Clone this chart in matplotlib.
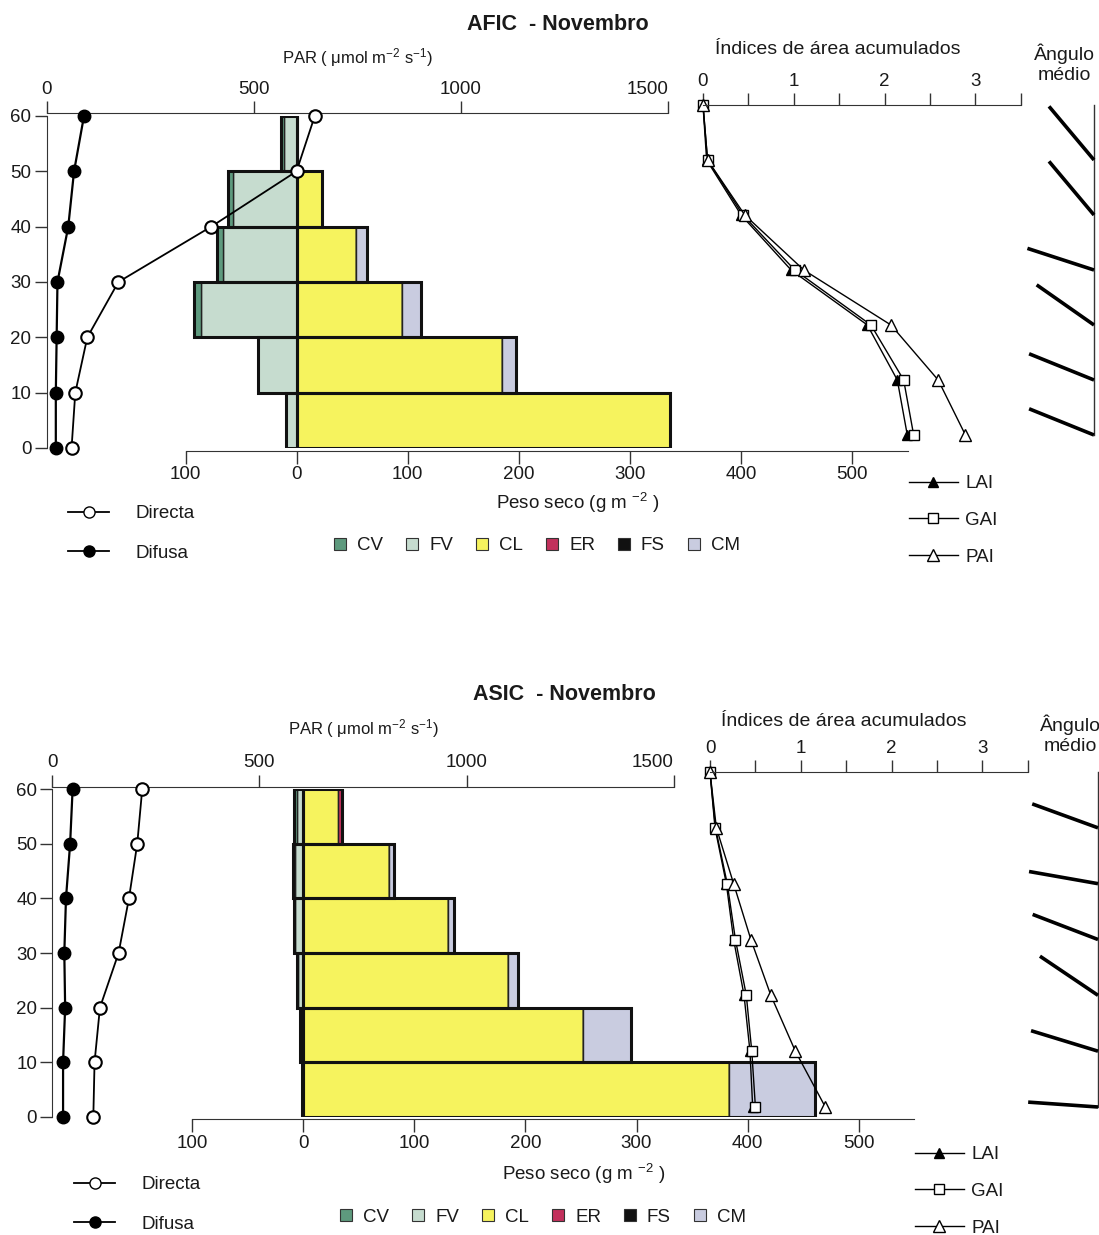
import numpy as np
import matplotlib
matplotlib.use('Agg')
import matplotlib.pyplot as plt
from matplotlib.patches import Patch
from matplotlib.lines import Line2D

plt.rcParams['font.family'] = ['Liberation Sans', 'DejaVu Sans']
plt.rcParams['mathtext.fontset'] = 'custom'
plt.rcParams['mathtext.rm'] = 'Liberation Sans'
plt.rcParams['mathtext.default'] = 'regular'

W, H = 1099, 1235   # output size in px (dpi 100)

HEIGHTS = [0, 10, 20, 30, 40, 50, 60]       # cm, PAR and area index levels
LAYERS = [0, 10, 20, 30, 40, 50]            # base of each 10 cm layer
HEIGHT_TICKS = [0, 10, 20, 30, 40, 50, 60]
PAR_TICKS = [0, 500, 1000, 1500]
WEIGHT_TICKS = [-100, 0, 100, 200, 300, 400, 500]
INDEX_TICKS = [0, 1, 2, 3]
INDEX_MINOR = [0.5, 1.5, 2.5, 3.5]
PARTS = ['CV', 'FV', 'CL', 'ER', 'FS', 'CM']
PART_COLORS = ['#5e9a7e', '#c6dccf', '#f6f35e', '#c2305c', '#111111', '#c9cce0']

# AFIC - Novembro (values bottom -> top)
afic_directa = [60, 69, 98, 173, 397, 603, 647]
afic_difusa = [22, 22, 24, 26, 52, 66, 90]
afic_cv = [0, 0, 6, 6, 5, 3]
afic_fv = [10, 35, 86, 66, 57, 11]
afic_cl = [336, 185, 95, 53, 23, 0]
afic_er = [0, 0, 0, 0, 0, 0]
afic_fs = [0, 0, 0, 0, 0, 0]
afic_cm = [0, 12, 17, 10, 0, 0]
afic_lai = [2.25, 2.14, 1.81, 0.97, 0.42, 0.04, 0]
afic_gai = [2.32, 2.21, 1.85, 1.01, 0.44, 0.05, 0]
afic_pai = [2.89, 2.59, 2.07, 1.11, 0.46, 0.05, 0]
afic_angle = [22, 22, 35, 18, 50, 50]   # degrees from horizontal, per layer

# ASIC - Novembro
asic_directa = [99, 102, 115, 160, 185, 205, 217]
asic_difusa = [26, 26, 31, 29, 33, 43, 49]
asic_cv = [0, 0, 1, 1, 2, 2]
asic_fv = [1, 3, 5, 7, 7, 6]
asic_cl = [383, 252, 184, 130, 77, 31]
asic_er = [0, 0, 0, 0, 0, 4]
asic_fs = [0, 0, 0, 0, 0, 0]
asic_cm = [78, 43, 9, 5.5, 5, 0]
asic_lai = [0.47, 0.44, 0.375, 0.26, 0.18, 0.055, 0]
asic_gai = [0.50, 0.46, 0.40, 0.28, 0.19, 0.06, 0]
asic_pai = [1.27, 0.94, 0.67, 0.45, 0.26, 0.07, 0]
asic_angle = [4, 17, 34, 21, 10, 20]

# scales (px per unit) shared by both panels
PAR_PX = 0.4143
W_PX = 1.111
I_PX = 90.8
RIGHT = 1022
TXT = '#1a1a1a'
FS_TICK = 13.5


def rect(x0, y0, x1, y1):
    return [x0 / W, 1 - y1 / H, (x1 - x0) / W, (y1 - y0) / H]


def ftext(fig, x, y, s, **kw):
    fig.text(x / W, 1 - y / H, s, color=TXT, **kw)


def style_ticks(ax, axis):
    ax.tick_params(axis=axis, which='both', length=9, width=1, color='#333',
                   labelsize=FS_TICK, labelcolor=TXT, pad=2)


def draw_panel(fig, geo, dx, dy, title, directa, difusa, cv, fv, cl, er, fs, cm,
               lai, gai, pai, angles):
    par0, top, bot, w0, idx0, itop, ibot, vline = geo

    # bars: dry weight by layer
    ax = fig.add_axes(rect(par0, top, RIGHT, bot))
    ax.set_ylim(0, 60)
    ax.set_xlim((par0 - w0) / W_PX, (RIGHT - w0) / W_PX)
    ax.patch.set_visible(False)
    for s in ['top', 'right']:
        ax.spines[s].set_visible(False)
    for s in ['left', 'bottom']:
        ax.spines[s].set_color('#333')
    ax.spines['left'].set_bounds(0, 60)
    ax.spines['bottom'].set_bounds(-100, 550)
    ax.spines['bottom'].set_position(('outward', 2))
    ax.set_yticks(HEIGHT_TICKS)
    ax.set_xticks(WEIGHT_TICKS)
    ax.set_xticklabels([str(abs(v)) for v in WEIGHT_TICKS])
    style_ticks(ax, 'both')

    cv, fv = np.array(cv, float), np.array(fv, float)
    kw = dict(height=10, align='edge', edgecolor='#222', linewidth=1)
    ax.barh(LAYERS, -fv, color=PART_COLORS[1], **kw)
    ax.barh(LAYERS, -cv, left=-fv, color=PART_COLORS[0], **kw)
    left = np.zeros(len(LAYERS))
    for vals, c in zip([cl, er, fs, cm], PART_COLORS[2:]):
        vals = np.array(vals, float)
        ax.barh(LAYERS, vals, left=left, color=c, **kw)
        left = left + vals
    ok = dict(height=10, align='edge', fill=False, edgecolor='#111', linewidth=2.2)
    ax.barh(LAYERS, -(fv + cv), **ok)
    ax.barh(LAYERS, left, **ok)

    # PAR profiles
    axp = ax.twiny()
    axp.set_xlim(0, (RIGHT - par0) / PAR_PX)
    for s in ['bottom', 'left', 'right']:
        axp.spines[s].set_visible(False)
    axp.spines['top'].set_color('#333')
    axp.spines['top'].set_bounds(0, 1500)
    axp.spines['top'].set_position(('outward', 2))
    axp.set_xticks(PAR_TICKS)
    style_ticks(axp, 'x')
    axp.get_xticklabels()[-1].set_ha('right')
    axp.plot(difusa, HEIGHTS, '-o', color='k', mfc='k', mec='k', ms=9, lw=1.6,
             clip_on=False, zorder=5)
    axp.plot(directa, HEIGHTS, '-o', color='k', mfc='white', mec='k', ms=9,
             mew=1.5, lw=1.3, clip_on=False, zorder=6)

    # cumulative area indices
    axi = fig.add_axes(rect(idx0, itop, idx0 + 3.5 * I_PX, ibot))
    axi.set_xlim(0, 3.5)
    axi.set_ylim(0, 60)
    axi.patch.set_visible(False)
    for s in ['bottom', 'left', 'right']:
        axi.spines[s].set_visible(False)
    axi.spines['top'].set_color('#333')
    axi.xaxis.tick_top()
    axi.set_xticks(INDEX_TICKS)
    axi.set_xticks(INDEX_MINOR, minor=True)
    axi.set_yticks([])
    style_ticks(axi, 'x')
    axi.plot(lai, HEIGHTS, '-^', color='k', mfc='k', ms=7, lw=1, clip_on=False)
    axi.plot(gai, HEIGHTS, '-s', color='k', mfc='white', ms=7, lw=1, clip_on=False)
    axi.plot(pai, HEIGHTS, '-^', color='k', mfc='white', ms=8, lw=1, clip_on=False)

    # mean leaf angle per layer
    u = 60 / (ibot - itop)
    axa = fig.add_axes(rect(vline - 90, itop, vline, ibot))
    axa.set_xlim(-90 * u, 0)
    axa.set_ylim(0, 60)
    axa.axis('off')
    axa.plot([0, 0], [0, 60], color='#333', lw=1, clip_on=False)
    L = 70 * u
    for h, a in zip(LAYERS, angles):
        t = np.radians(a)
        axa.plot([0, -L * np.cos(t)], [h, h + L * np.sin(t)], color='k', lw=2.6,
                 solid_capstyle='butt', clip_on=False)

    # texts
    ftext(fig, 558 + dx, 24 + dy, title, fontsize=15.5, fontweight='bold', ha='center', va='center')
    ftext(fig, 358 + dx, 58 + dy, 'PAR ( \u03bcmol m$^{-2}$ s$^{-1}$)', fontsize=12, ha='center', va='center')
    ftext(fig, 838 + dx, 50 + dy, '\u00cdndices de \u00e1rea acumulados', fontsize=14, ha='center', va='center')
    ftext(fig, 1064 + dx, 64 + dy, '\u00c2ngulo\nm\u00e9dio', fontsize=14, ha='center', va='center',
          linespacing=1.25)
    ftext(fig, 578 + dx, 503 + dy, 'Peso seco (g m $^{-2}$ )', fontsize=13.5, ha='center', va='center')

    # legends
    par_h = [Line2D([], [], color='k', marker='o', mfc='white', mec='k', ms=8, lw=1.3),
             Line2D([], [], color='k', marker='o', mfc='k', mec='k', ms=8, lw=1.3)]
    fig.legend(par_h, ['Directa', 'Difusa'], loc='upper left',
               bbox_to_anchor=((68 + dx) / W, 1 - (505 + dy) / H), frameon=False,
               fontsize=13.5, handlelength=2.2, handletextpad=1.4, labelspacing=1.2,
               borderpad=0, borderaxespad=0, labelcolor=TXT)
    part_h = [Patch(facecolor=c, edgecolor='#333', linewidth=0.8) for c in PART_COLORS]
    fig.legend(part_h, PARTS, loc='center', ncol=6,
               bbox_to_anchor=((537 + dx) / W, 1 - (546 + dy) / H), frameon=False,
               fontsize=13.5, handlelength=0.65, handleheight=0.65, handletextpad=0.6,
               columnspacing=1.2, borderpad=0, borderaxespad=0, labelcolor=TXT)
    idx_h = [Line2D([], [], color='k', marker='^', mfc='k', ms=7, lw=1),
             Line2D([], [], color='k', marker='s', mfc='white', ms=7, lw=1),
             Line2D([], [], color='k', marker='^', mfc='white', ms=8, lw=1)]
    fig.legend(idx_h, ['LAI', 'GAI', 'PAI'], loc='upper left',
               bbox_to_anchor=((909 + dx) / W, 1 - (475 + dy) / H), frameon=False,
               fontsize=13.5, handlelength=2.6, handletextpad=0.4, labelspacing=1.05,
               borderpad=0, borderaxespad=0, labelcolor=TXT)


fig = plt.figure(figsize=(W / 100, H / 100), dpi=100)

draw_panel(fig, (46.7, 116, 448, 296.7, 703, 105, 435, 1094), 0, 0, 'AFIC  - Novembro',
           afic_directa, afic_difusa, afic_cv, afic_fv, afic_cl, afic_er, afic_fs, afic_cm,
           afic_lai, afic_gai, afic_pai, afic_angle)
draw_panel(fig, (52.3, 789.3, 1116.7, 303.2, 710, 772, 1107, 1098), 6, 671, 'ASIC  - Novembro',
           asic_directa, asic_difusa, asic_cv, asic_fv, asic_cl, asic_er, asic_fs, asic_cm,
           asic_lai, asic_gai, asic_pai, asic_angle)

fig.savefig('out.png', dpi=100)
